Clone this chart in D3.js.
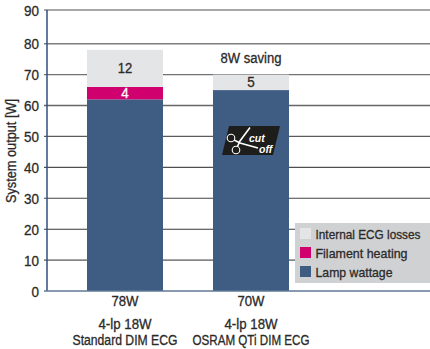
<!DOCTYPE html>
<html>
<head>
<meta charset="utf-8">
<script src="https://cdn.jsdelivr.net/npm/d3@7"></script>
<style>
html, body { margin: 0; padding: 0; background: #fff; }
text { font-family: "Liberation Sans", Arial, sans-serif; fill: #2b2a29; stroke: #2b2a29; stroke-width: 0.3; }
</style>
</head>
<body>
<div id="chart"></div>
<script>
// Lamp system output, standard vs QTi dimming ECG

const categories = ["Standard", "QTi"];
const lampWattage = [62, 65];
const filamentHeating = [4, 0];
const ecgLosses = [12, 5];
const totals = ["78W", "70W"];
const lineOne = ["4-lp 18W", "4-lp 18W"];
const lineTwo = ["Standard DIM ECG", "OSRAM QTi DIM ECG"];
const yTicks = [0, 10, 20, 30, 40, 50, 60, 70, 80, 90];
const legendLabels = ["Internal ECG losses", "Filament heating", "Lamp wattage"];

const width = 430;
const height = 349;
const BLUE = "#3f5d83", PINK = "#d0006f", GREY = "#e4e5e7";

const svg = d3.select("#chart").append("svg")
    .attr("width", width).attr("height", height)
    .style("display", "block");

// top interval of the original is a bit taller than the others, hence 3 stops
const y = d3.scaleLinear().domain([0, 80, 90]).range([291, 43.7, 10]);
const x = d3.scaleBand().domain(categories).range([87, 289]).paddingInner(50 / 126).paddingOuter(0);

// grid lines fade from thin dark at the bottom to thick grey at the top
const gridColor = d3.scaleLinear().domain([10, 90]).range(["#2b2b2b", "#8a8a8a"]);
const gridWidth = d3.scaleLinear().domain([10, 90]).range([1, 1.6]);

svg.append("g").selectAll("line")
    .data(yTicks.filter(d => d > 0)).join("line")
    .attr("x1", 44).attr("x2", width)
    .attr("y1", d => y(d)).attr("y2", d => y(d))
    .attr("stroke", d => gridColor(d)).attr("stroke-width", d => gridWidth(d));

// tick labels
svg.append("g").selectAll("text")
    .data(yTicks).join("text")
    .attr("x", 39).attr("y", d => y(d) + 5.5)
    .attr("text-anchor", "end")
    .attr("font-size", 15.5)
    .attr("textLength", d => d === 0 ? 7.5 : 15).attr("lengthAdjust", "spacingAndGlyphs")
    .text(d => d);

svg.append("text")
    .attr("transform", "translate(16,151) rotate(-90)")
    .attr("text-anchor", "middle")
    .attr("font-size", 14)
    .attr("textLength", 104).attr("lengthAdjust", "spacingAndGlyphs")
    .text("System output [W]");

// stacked bars
const stack = categories.map((c, i) => [
    { c, from: 0, to: lampWattage[i], fill: BLUE },
    { c, from: lampWattage[i], to: lampWattage[i] + filamentHeating[i], fill: PINK },
    { c, from: lampWattage[i] + filamentHeating[i], to: lampWattage[i] + filamentHeating[i] + ecgLosses[i], fill: GREY }
]).flat();

svg.append("g").selectAll("rect")
    .data(stack).join("rect")
    .attr("x", d => x(d.c)).attr("width", x.bandwidth())
    .attr("y", d => y(d.to)).attr("height", d => y(d.from) - y(d.to))
    .attr("fill", d => d.fill);

// axis lines go over the bars
svg.append("line").attr("x1", 47).attr("x2", 47).attr("y1", y(90)).attr("y2", y(0))
    .attr("stroke", "#2f4f80").attr("stroke-width", 1.5);
svg.append("line").attr("x1", 44).attr("x2", width).attr("y1", y(0)).attr("y2", y(0))
    .attr("stroke", "#5f7896").attr("stroke-width", 1.5);

// value labels in bars
const barText = (v, i, dy, color, w) => svg.append("text")
    .attr("x", x(categories[i]) + x.bandwidth() / 2).attr("y", dy)
    .attr("text-anchor", "middle").attr("font-size", 14.5)
    .attr("textLength", w).attr("lengthAdjust", "spacingAndGlyphs")
    .style("fill", color).style("stroke", color).text(v);

barText(ecgLosses[0], 0, y(72) + 5, "#2b2a29", 14.5);
barText(filamentHeating[0], 0, y(64) + 5, "#fff", 7.5);
barText(ecgLosses[1], 1, y(67.5) + 5, "#2b2a29", 7.5);

svg.append("text").attr("x", 251).attr("y", 63).attr("text-anchor", "middle")
    .attr("font-size", 14).attr("textLength", 61).attr("lengthAdjust", "spacingAndGlyphs")
    .text("8W saving");

// category labels
categories.forEach((c, i) => {
    const cx = x(c) + x.bandwidth() / 2;
    svg.append("text").attr("x", cx).attr("y", 306).attr("text-anchor", "middle")
        .attr("font-size", 14).attr("textLength", 27).attr("lengthAdjust", "spacingAndGlyphs").text(totals[i]);
    svg.append("text").attr("x", cx).attr("y", 329).attr("text-anchor", "middle")
        .attr("font-size", 14).attr("textLength", 53).attr("lengthAdjust", "spacingAndGlyphs").text(lineOne[i]);
    svg.append("text").attr("x", cx).attr("y", 345).attr("text-anchor", "middle")
        .attr("font-size", 14).attr("textLength", i === 0 ? 105 : 117).attr("lengthAdjust", "spacingAndGlyphs").text(lineTwo[i]);
});

// cut off badge
const badge = svg.append("g").attr("transform", "translate(222,126)");
badge.append("path").attr("d", "M7,0H58L51,29H0Z").attr("fill", "#1d1d1b");
badge.append("g").attr("fill", "none").attr("stroke", "#fff").attr("stroke-width", 1.1).call(s => {
    s.append("circle").attr("cx", 9).attr("cy", 12).attr("r", 3.8);
    s.append("circle").attr("cx", 14).attr("cy", 24).attr("r", 3.8);
    s.append("path").attr("d", "M12,14L18,17L36,22").attr("stroke-width", 1.6);
    s.append("path").attr("d", "M15.5,20.5L18,15L28,1.5").attr("stroke-width", 1.6);
});
badge.append("text").attr("x", 27).attr("y", 15.7).attr("font-size", 10.5).attr("font-weight", 700)
    .attr("font-style", "italic").style("fill", "#fff").style("stroke", "none").text("cut");
badge.append("text").attr("x", 37).attr("y", 26.7).attr("font-size", 10.5).attr("font-weight", 700)
    .attr("font-style", "italic").style("fill", "#fff").style("stroke", "none").text("off");

// legend
const legend = svg.append("g").attr("transform", "translate(295,223)");
legend.append("rect").attr("width", 135).attr("height", 60).attr("fill", "#d0d1d3");
const legendColors = [GREY, PINK, BLUE];
legendLabels.forEach((l, i) => {
    legend.append("rect").attr("x", 5).attr("y", 5 + i * 19).attr("width", 11).attr("height", 11).attr("fill", legendColors[i]);
    legend.append("text").attr("x", 20.5).attr("y", 15.5 + i * 19)
        .attr("font-size", 13).attr("textLength", [105, 92, 77][i]).attr("lengthAdjust", "spacingAndGlyphs").text(l);
});
</script>
</body>
</html>
